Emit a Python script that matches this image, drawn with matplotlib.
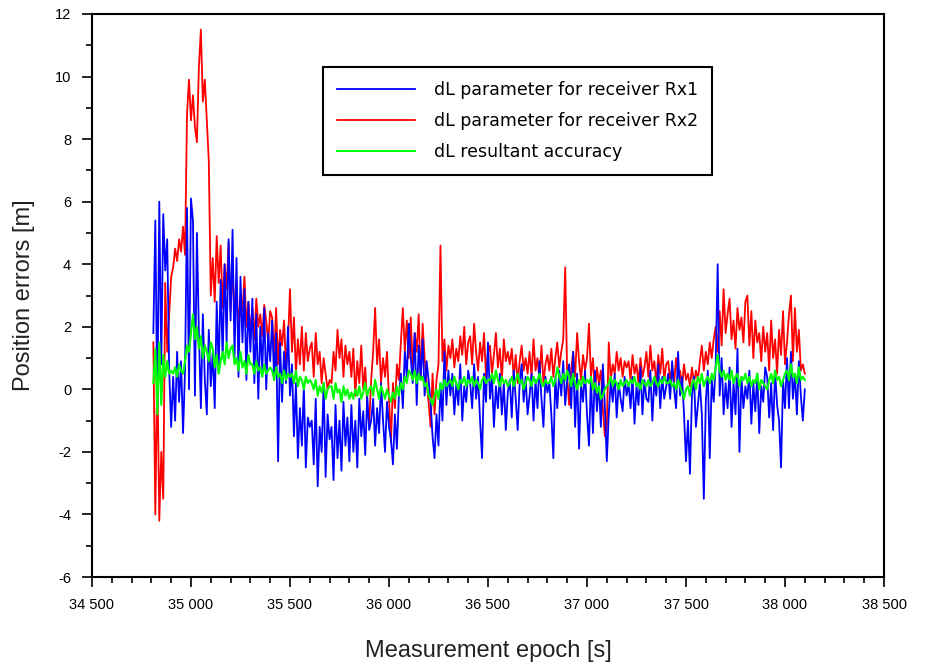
import numpy as np
import matplotlib
matplotlib.use("Agg")
import matplotlib.pyplot as plt
from matplotlib.ticker import MultipleLocator, FuncFormatter

# epochs: one sample every 10 s
t_inicio = 34810
t_paso = 10

# dL parameter for receiver Rx1 (blue)
rx1 = [
    1.8, 5.4, -0.6, 6.0, 0.8, 5.6, 3.8, 4.8, 0.6, -1.2,
    0.4, -1.0, 1.2, -0.4, 0.9, -1.4, 0.6, 5.8, 0.0, 6.1,
    5.4, -0.2, 5.0, 1.8, -0.6, 2.4, 0.3, -0.8, 1.9, 0.1,
    1.2, -0.6, 2.8, 0.6, 3.5, 1.0, 4.0, 1.5, 4.8, 2.2,
    5.1, 1.0, 4.2, 0.4, 3.6, 1.5, 3.2, 0.3, 2.8, 1.2,
    2.9, 0.2, 2.4, -0.3, 2.0, 0.6, 2.6, 0.0, 1.8, 0.9,
    2.2, 0.3, 1.8, -2.3, 1.5, -0.4, 1.2, 0.2, 2.0, -0.2,
    0.8, -1.5, 0.2, -2.2, -0.6, -1.8, 0.1, -2.5, -0.9, -1.2,
    -1.0, -2.4, -0.3, -3.1, -1.2, -2.0, 0.2, -2.8, -0.8, -1.6,
    -1.2, -2.9, -0.5, -2.2, -1.0, -2.6, -0.4, -1.8, -0.9, -2.3,
    -0.5, -2.0, -1.0, -2.5, -0.3, -1.5, -0.7, -2.1, -0.2, -1.3,
    -1.0, -0.3, -1.8, -0.6, -1.4, 0.2, -1.0, -2.0, -0.4, -1.2,
    -1.6, -2.4, -0.8, -1.9, -0.2, 0.5, -0.6, 1.2, 0.4, 2.1,
    1.0, 0.2, 1.8, -0.5, 1.4, 0.4, 1.6, -0.2, 0.9, 0.3,
    -0.4, -1.5, -2.2, -0.8, -1.8, 0.2, -1.0, 1.2, -0.5, 0.6,
    -0.2, 0.5, -0.8, 0.2, -0.5, 0.8, -1.0, 0.1, -0.4, 0.6,
    0.2, -0.6, 0.8, -0.3, 0.4, -1.0, -2.2, 0.5, -0.4, 1.5,
    -0.3, 0.4, -1.2, 0.1, -0.6, 0.5, -0.8, 0.2, -1.3, -0.1,
    0.3, -0.9, 0.6, -0.3, -1.3, 0.2, 0.8, -0.4, 0.4, -0.8,
    -0.2, 0.5, -1.0, 0.3, -0.6, 0.9, -0.3, -1.2, 0.4, -0.1,
    0.2, -0.8, -2.2, 0.4, -0.6, 0.6, -0.2, 0.9, -0.5, 0.3,
    0.8, -0.6, 1.2, -1.2, 0.5, -1.9, 0.2, -0.4, 0.6, -0.8,
    -1.8, 0.4, -1.4, 0.6, -0.7, 0.2, -1.2, 0.8, -0.5, -2.3,
    -0.8, 0.3, -0.4, 0.5, -0.9, 0.2, -0.3, -0.7, 0.4, -0.2,
    0.2, -0.6, 0.4, -1.1, 0.1, -0.5, 0.7, -0.8, 0.3, -0.3,
    -0.4, 0.6, -1.0, 0.3, -0.2, 0.8, -0.6, 0.4, -0.3, 0.1,
    0.5, -0.3, 0.9, 0.0, -0.6, 1.2, -0.2, 0.4, -0.8, -2.3,
    -1.0, -2.7, -0.2, 0.4, -1.2, -0.5, 0.2, -0.8, -3.5, -0.4,
    0.6, -2.2, 0.3, -0.4, 0.8, 4.0, -0.2, 1.0, -0.8, 0.2,
    -0.6, 0.7, -1.2, 0.2, -0.8, 1.3, -2.0, 0.4, -0.6, 0.1,
    -0.3, 0.6, -1.1, 0.2, -0.7, 0.5, -1.4, 0.1, -0.4, 0.7,
    0.4, -0.9, 0.2, -1.3, 0.6, -0.5, -1.0, -2.5, 0.3, -0.6,
    1.0, -0.6, 1.2, -0.3, 0.5, -0.8, 0.9, -0.2, -1.0, 0.0,
]

# dL parameter for receiver Rx2 (red)
rx2 = [
    1.5, -4.0, 0.8, -4.2, -2.0, -3.5, 3.4, 1.2, 2.4, 3.6,
    3.9, 4.5, 4.1, 4.8, 4.4, 5.2, 4.3, 8.8, 9.9, 8.6,
    9.4, 8.4, 7.9, 10.3, 11.5, 9.2, 9.9, 8.6, 7.3, 3.0,
    4.2, 2.8, 4.9, 3.4, 4.6, 2.6, 4.0, 3.2, 4.7, 2.5,
    4.0, 2.2, 3.4, 1.9, 3.0, 2.5, 3.6, 2.0, 2.8, 1.8,
    2.6, 1.6, 2.9, 2.0, 2.4, 1.7, 2.7, 2.2, 1.5, 2.5,
    2.3, 1.0, 2.6, 0.8, 1.9, 1.4, 2.2, 0.7, 1.5, 3.2,
    1.2, 2.3, 0.5, 1.6, 0.8, 2.0, 0.6, 1.8, 0.9, 1.3,
    1.5, 0.4, 1.8, 0.8, 1.2, 0.2, 1.0, 0.5, 0.0, 0.3,
    0.2, 1.2, 0.6, 1.9, 1.0, 1.6, 0.4, 1.4, 0.8, 1.2,
    0.4, 1.3, -0.2, 0.9, 0.2, 1.4, 0.0, 0.7, -0.5, -1.1,
    0.3, 1.2, 2.6, 0.8, 1.6, 0.2, 1.0, 0.4, 1.2, -0.3,
    -1.7, 0.2, -0.6, 0.8, 0.3, 1.5, 2.6, 1.2, 2.2, 1.0,
    2.3, 0.6, 1.8, 1.2, 2.4, 0.3, 2.1, 1.0, 0.2, -0.4,
    -1.2, 0.5, -0.8, 0.3, 0.8, 4.6, 0.9, 1.6, 0.6, 1.4,
    1.0, 1.6, 0.7, 1.3, 0.9, 1.7, 1.1, 2.0, 0.8, 1.5,
    1.7, 0.8, 2.1, 1.2, 0.6, 1.5, 0.9, 1.8, 0.4, 1.2,
    1.4, 0.5, 1.1, 1.8, 0.7, 1.3, 0.3, 1.6, 0.9, 1.2,
    0.8, 1.3, 0.4, 1.1, 0.2, 0.9, 1.4, 0.6, 1.0, 0.5,
    1.2, 0.4, 1.6, 0.6, 1.0, 0.3, 1.4, 0.2, 0.8, 1.1,
    0.6, 1.3, 0.4, 1.0, 1.5, 0.7, 1.2, 1.6, 3.9, 0.4,
    -0.5, 0.6, 1.2, 0.4, 1.8, 0.9, 0.3, 1.1, 0.6, 1.0,
    2.1, 0.4, 1.0, -0.1, 0.7, 0.2, 0.6, -0.6, -1.5, -1.2,
    1.5, 0.3, 0.8, 0.5, 1.2, 0.6, 1.0, 0.4, 0.9, 0.7,
    0.9, 0.3, 1.1, 0.5, 0.8, 0.2, 1.0, 0.4, 0.7, 1.2,
    0.4, 1.4, 0.6, 0.9, 0.2, 1.1, 0.5, 1.3, 0.3, 0.8,
    0.9, 0.3, 0.7, 0.2, 1.0, 0.4, 0.6, 0.1, 0.8, 0.3,
    0.5, 0.1, 0.7, 0.2, 0.6, 0.3, 0.9, 1.4, 0.6, 1.2,
    0.8, 1.5, 1.0, 1.6, 2.0, 1.2, 2.5, 1.4, 3.2, 1.8,
    2.4, 2.9, 1.6, 2.2, 1.3, 2.6, 1.9, 2.3, 1.5, 2.8,
    3.0, 1.4, 2.5, 1.0, 2.2, 1.5, 1.8, 0.9, 2.0, 1.2,
    1.8, 0.6, 2.2, 1.0, 1.6, 0.5, 1.9, 1.1, 2.5, 0.8,
    1.5, 2.4, 3.0, 0.9, 2.6, 1.2, 1.9, 0.6, 0.8, 0.5,
]

# dL resultant accuracy (green)
resultante = [
    0.2, 1.3, -0.8, 1.5, -0.5, 1.1, 0.4, 0.9, 0.5, 0.6,
    0.5, 0.7, 0.4, 0.8, 0.6, 0.5, 0.9, 1.4, 1.2, 1.8,
    2.4, 1.6, 2.0, 1.3, 1.7, 1.0, 1.4, 1.2, 0.9, 1.5,
    1.3, 0.7, 1.1, 0.5, 0.9, 1.2, 0.8, 1.5, 1.0, 1.3,
    1.4, 0.8, 1.0, 0.6, 1.2, 0.7, 0.9, 0.5, 1.1, 0.8,
    0.8, 0.5, 0.9, 0.6, 0.7, 0.4, 0.8, 0.5, 0.6, 0.7,
    0.6, 0.3, 0.7, 0.4, 0.5, 0.2, 0.6, 0.3, 0.5, 0.4,
    0.5, 0.2, 0.6, 0.1, 0.4, 0.3, 0.0, 0.4, 0.2, 0.3,
    0.2, 0.0, 0.3, -0.2, 0.1, -0.1, 0.2, -0.3, 0.0, 0.1,
    0.1, -0.3, 0.2, -0.1, 0.0, -0.4, 0.1, -0.2, 0.0, -0.3,
    -0.1, -0.3, 0.0, -0.2, 0.1, -0.3, -0.1, 0.2, -0.2, 0.0,
    0.1, -0.2, 0.3, 0.0, -0.3, 0.1, -0.1, -0.3, 0.0, -0.2,
    -0.4, -0.1, -0.3, 0.1, -0.2, 0.2, 0.0, 0.4, 0.2, 0.6,
    0.5, 0.3, 0.6, 0.2, 0.5, 0.3, 0.4, 0.1, 0.2, -0.2,
    -0.3, -0.5, -0.2, 0.0, -0.3, 0.2, 0.0, 0.3, 0.1, 0.2,
    0.3, 0.1, 0.4, 0.2, 0.0, 0.3, 0.2, 0.4, 0.1, 0.3,
    0.2, 0.4, 0.1, 0.3, 0.2, 0.0, 0.3, 0.4, 0.2, 0.3,
    0.3, 0.5, 0.2, 0.6, 0.3, 0.1, 0.4, 0.2, 0.3, 0.1,
    0.2, 0.4, 0.1, 0.3, 0.5, 0.2, 0.3, 0.0, 0.2, 0.4,
    0.3, 0.1, 0.4, 0.2, 0.3, 0.5, 0.2, 0.1, 0.3, 0.2,
    0.2, 0.4, 0.1, 0.3, 0.7, 0.4, 0.2, 0.5, 0.3, 0.6,
    0.4, 0.1, 0.5, 0.2, 0.0, 0.3, 0.1, 0.4, 0.2, 0.3,
    0.2, 0.4, 0.0, 0.2, -0.1, 0.1, -0.3, -0.2, 0.0, 0.1,
    0.2, 0.4, 0.1, 0.3, 0.2, 0.0, 0.3, 0.1, 0.2, 0.3,
    0.1, 0.3, 0.2, 0.4, 0.1, 0.2, 0.0, 0.3, 0.2, 0.1,
    0.3, 0.1, 0.2, 0.4, 0.2, 0.1, 0.3, 0.2, 0.4, 0.2,
    0.2, 0.3, 0.1, 0.2, 0.0, 0.3, 0.1, -0.1, -0.3, 0.0,
    0.1, -0.2, 0.2, 0.3, 0.0, 0.4, 0.2, 0.5, 0.1, 0.3,
    0.4, 0.2, 0.5, 0.3, 0.7, 1.1, 0.6, 0.4, 0.6, 0.3,
    0.5, 0.3, 0.6, 0.2, 0.4, 0.5, 0.1, 0.4, 0.3, 0.5,
    0.2, 0.4, 0.1, 0.3, 0.2, 0.5, 0.0, 0.3, 0.2, 0.1,
    0.0, 0.3, 0.5, 0.2, 0.6, 0.3, 0.4, 0.1, 0.3, 0.5,
    0.6, 0.3, 0.8, 0.4, 0.5, 0.2, 0.7, 0.3, 0.4, 0.3,
]

etiquetas = ["dL parameter for receiver Rx1",
             "dL parameter for receiver Rx2",
             "dL resultant accuracy"]

epoca = t_inicio + t_paso * np.arange(len(rx1))

plt.rcParams['font.family'] = ['Liberation Sans', 'DejaVu Sans']

fig = plt.figure(figsize=(9.28, 6.66), dpi=100)
ax = fig.add_axes([0.0991, 0.1336, 0.8535, 0.8454])

l2, = ax.plot(epoca, rx2, color='#ff0000', lw=1.3, label=etiquetas[1])
l1, = ax.plot(epoca, rx1, color='#0000ff', lw=1.3, label=etiquetas[0])
l3, = ax.plot(epoca, resultante, color='#00ff00', lw=1.5, label=etiquetas[2])

ax.set_xlim(34500, 38500)
ax.set_ylim(-6, 12)
ax.xaxis.set_major_locator(MultipleLocator(500))
ax.xaxis.set_minor_locator(MultipleLocator(100))
ax.yaxis.set_major_locator(MultipleLocator(2))
ax.yaxis.set_minor_locator(MultipleLocator(1))
ax.xaxis.set_major_formatter(FuncFormatter(lambda v, p: f"{int(v):,}".replace(",", " ")))
ax.yaxis.set_major_formatter(FuncFormatter(lambda v, p: f"{int(v)}"))

ax.tick_params(which='major', direction='out', length=7, width=1.2, labelsize=10.5, pad=8)
ax.tick_params(which='minor', direction='out', length=4, width=1.2)
for s in ax.spines.values():
    s.set_linewidth(1.5)

ax.set_xlabel("Measurement epoch [s]", fontsize=17, labelpad=20, color='#222222')
ax.set_ylabel("Position errors [m]", fontsize=17, labelpad=14, color='#222222')

leg = ax.legend(handles=[l1, l2, l3], loc='upper left', bbox_to_anchor=(0.2917, 0.906),
                borderaxespad=0, fancybox=False, edgecolor='black', framealpha=1,
                prop={'family': 'DejaVu Sans', 'size': 12.5},
                handlelength=4.5, handletextpad=1.1, labelspacing=0.76,
                borderpad=0.8)
leg.get_frame().set_linewidth(1.5)

fig.savefig("out.png", dpi=100)
